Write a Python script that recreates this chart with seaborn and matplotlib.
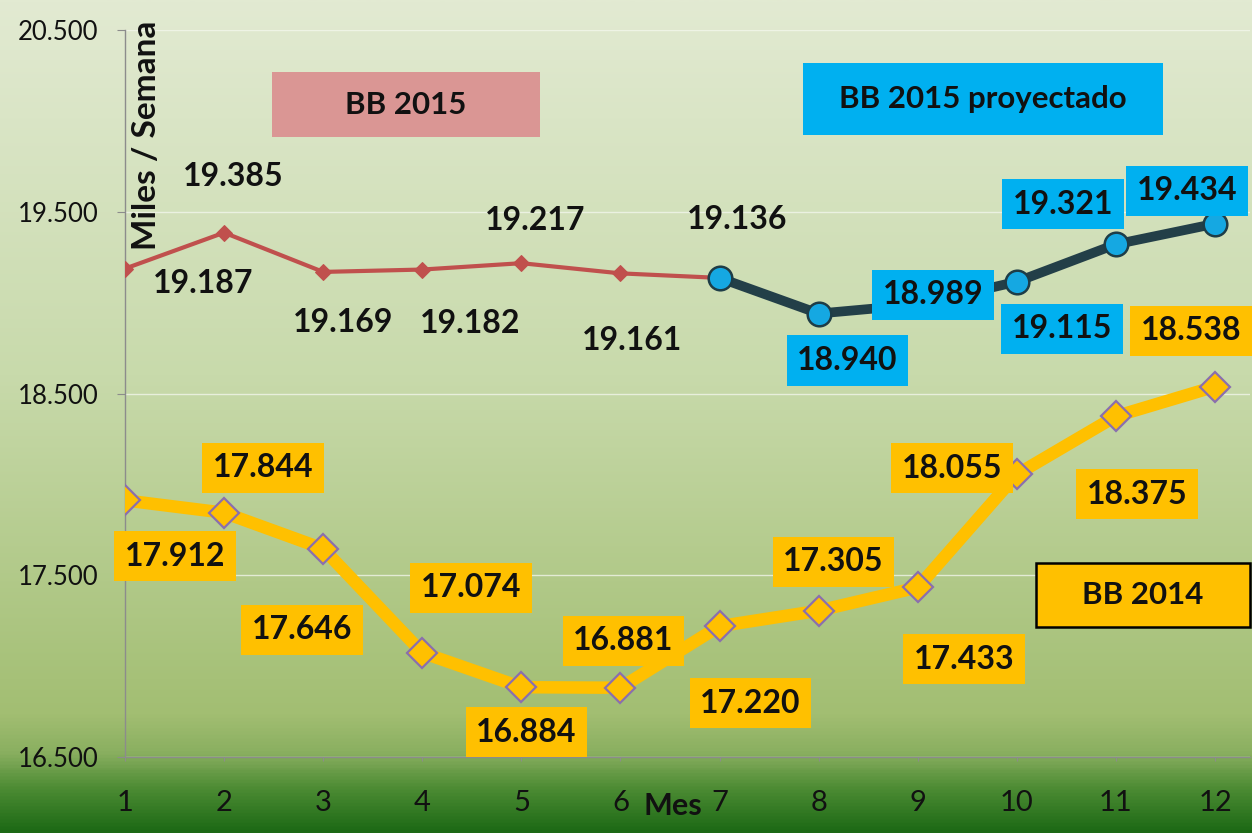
import numpy as np
import pandas as pd
import matplotlib
matplotlib.use("Agg")
import matplotlib.pyplot as plt
from matplotlib.colors import LinearSegmentedColormap
from matplotlib.patches import Rectangle
from matplotlib.ticker import FuncFormatter, FixedLocator
import seaborn as sns

# ---------------- data ----------------
meses = list(range(1, 13))
meses_2015 = [1, 2, 3, 4, 5, 6, 7]
bb_2015 = [19187, 19385, 19169, 19182, 19217, 19161, 19136]
meses_proy = [7, 8, 9, 10, 11, 12]
bb_2015_proy = [19136, 18940, 18989, 19115, 19321, 19434]
bb_2014 = [17912, 17844, 17646, 17074, 16884, 16881, 17220, 17305, 17433, 18055, 18375, 18538]
y_ticks = [16500, 17500, 18500, 19500, 20500]

# label offsets (pixels) – styling only
off_2015 = [(78, -15), (9, 56), (20, -51), (48, -54), (14, 43), (12, -67), (18, 58)]
off_proy = [None, (29, -47), (15, 10), (45, -47), (-53, 40), (-28, 33)]
off_2014 = [(50, -56), (39, 45), (-21, -81), (49, 65), (5, -45), (3, 47),
            (31, -77), (15, 49), (46, -72), (-65, 6), (21, -78), (-24, 56)]

def fmt(v):
    return f"{int(round(v)):,}".replace(",", ".")

sns.set_style("white")
plt.rcParams["font.family"] = ["Lato", "DejaVu Sans"]

W, H = 1252, 833
fig = plt.figure(figsize=(W / 100, H / 100), dpi=100)

# background gradient
bg = fig.add_axes([0, 0, 1, 1], zorder=-10)
cmap = LinearSegmentedColormap.from_list(
    "bg",
    [(0.0, "#E2EAD2"), (0.45, "#C8DAAB"), (0.86, "#A2BE72"),
     (0.905, "#8AAF60"), (0.95, "#4C8B33"), (1.0, "#1C6915")])
grad = np.linspace(0, 1, 500).reshape(-1, 1)
bg.imshow(grad, aspect="auto", cmap=cmap, extent=[0, 1, 1, 0])
bg.set_axis_off()

ax = fig.add_axes([125 / W, 1 - 757 / H, (1250 - 125) / W, (757 - 30) / H])
ax.patch.set_alpha(0)

df15 = pd.DataFrame({"Mes": meses_2015, "v": bb_2015})
dfp = pd.DataFrame({"Mes": meses_proy, "v": bb_2015_proy})
df14 = pd.DataFrame({"Mes": meses, "v": bb_2014})

sns.lineplot(data=df14, x="Mes", y="v", ax=ax, color="#FFC000", linewidth=9,
             marker="D", markersize=15, markerfacecolor="#FFC000",
             markeredgecolor="#8A6FAE", markeredgewidth=1.6, zorder=3)
sns.lineplot(data=df15, x="Mes", y="v", ax=ax, color="#C0504D", linewidth=3,
             marker="D", markersize=8.5, markerfacecolor="#C0504D",
             markeredgecolor="#C0504D", zorder=4)
sns.lineplot(data=dfp, x="Mes", y="v", ax=ax, color="#233F48", linewidth=7,
             marker="o", markersize=17, markerfacecolor="#15A8E2",
             markeredgecolor="#1E3D47", markeredgewidth=1.8, zorder=5)

ax.set_xlim(1, 12.353)
ax.set_ylim(16500, 20500)
ax.yaxis.set_major_locator(FixedLocator(y_ticks))
ax.yaxis.set_major_formatter(FuncFormatter(lambda v, p: fmt(v)))
ax.set_xticks(meses)
ax.set_xticklabels([str(m) for m in meses])
ax.grid(axis="y", color="#F4F7EE", linewidth=1.0, alpha=0.75)
ax.grid(axis="x", visible=False)
ax.set_axisbelow(True)
for s in ["top", "right"]:
    ax.spines[s].set_visible(False)
for s in ["left", "bottom"]:
    ax.spines[s].set_color("#8C8C8C")
    ax.spines[s].set_linewidth(1.0)
    ax.spines[s].set_zorder(2)
ax.tick_params(axis="y", left=True, length=6, color="#8C8C8C", pad=13,
               labelsize=18.5, labelcolor="#111111")
ax.tick_params(axis="x", bottom=True, length=3, color="#8C8C8C", pad=21,
               labelsize=21, labelcolor="#111111")
ax.set_xlabel("")
ax.set_ylabel("")

# axis titles
fig.text(147 / W, 1 - 135 / H, "Miles / Semana", rotation=90, ha="center",
         va="center", fontsize=24, fontweight="bold", color="#111111")
fig.text(673 / W, 1 - 806 / H, "Mes", ha="center", va="center",
         fontsize=22, fontweight="bold", color="#111111")

lab_kw = dict(textcoords="offset pixels", ha="center", va="center",
              fontsize=23, fontweight="bold", color="#111111", zorder=10)

for m, v, o in zip(meses_2015, bb_2015, off_2015):
    ax.annotate(fmt(v), (m, v), xytext=o, **lab_kw)
for m, v, o in zip(meses_proy, bb_2015_proy, off_proy):
    if o is None:
        continue
    ax.annotate(fmt(v), (m, v), xytext=o,
                bbox=dict(boxstyle="square,pad=0.33", fc="#00B0F0", ec="none"),
                **lab_kw)
for m, v, o in zip(meses, bb_2014, off_2014):
    ax.annotate(fmt(v), (m, v), xytext=o,
                bbox=dict(boxstyle="square,pad=0.33", fc="#FFC000", ec="none"),
                **lab_kw)

# legend-like boxes
def box(x0, y0, x1, y1, fc, text, ec="none", lw=0):
    r = Rectangle((x0 / W, 1 - y1 / H), (x1 - x0) / W, (y1 - y0) / H,
                  transform=fig.transFigure, fc=fc, ec=ec, lw=lw, zorder=20)
    fig.add_artist(r)
    fig.text((x0 + x1) / 2 / W, 1 - (y0 + y1) / 2 / H, text, ha="center",
             va="center", fontsize=22.5, fontweight="bold", color="#111111",
             zorder=21)

box(272, 72, 540, 137, "#DA9694", "BB 2015")
box(803, 63, 1163, 135, "#00B0F0", "BB 2015 proyectado")
box(1036, 563, 1250, 627, "#FFC000", "BB 2014", ec="#000000", lw=1.8)

fig.savefig("out.png", dpi=100)
